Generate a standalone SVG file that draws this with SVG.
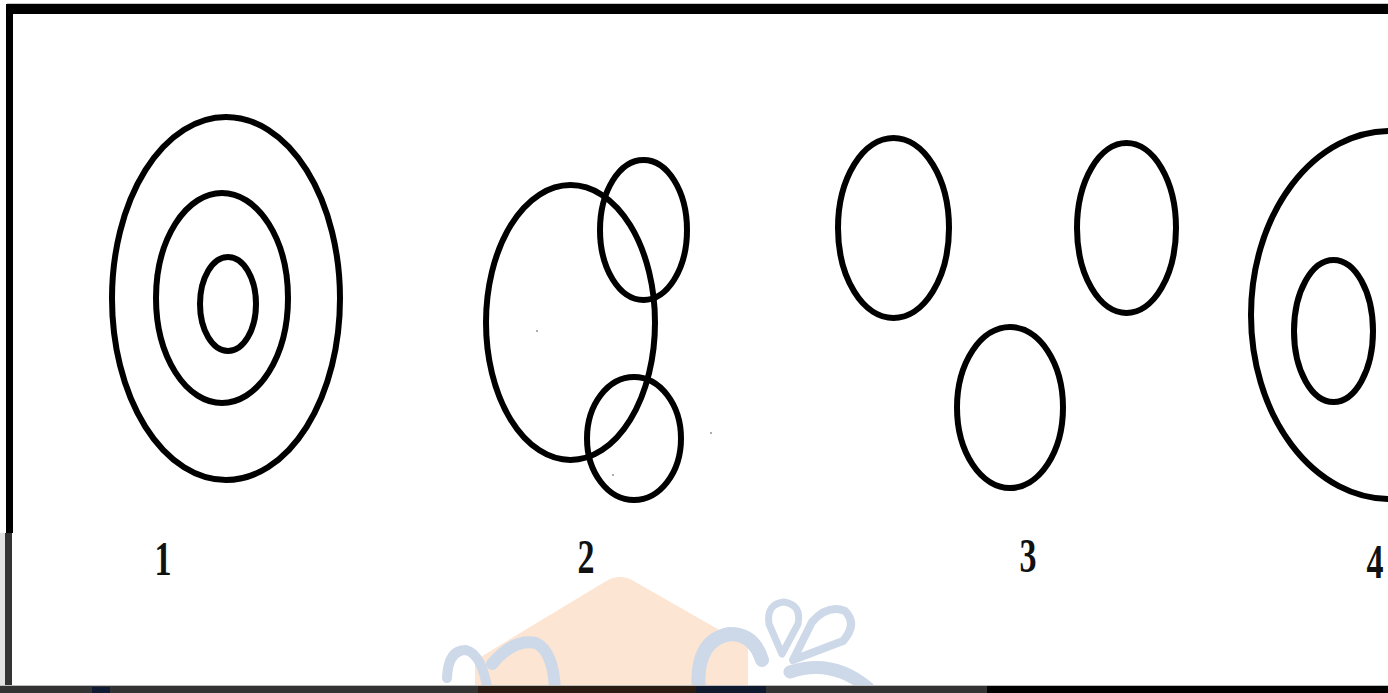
<svg xmlns="http://www.w3.org/2000/svg" width="1388" height="693" viewBox="0 0 1388 693">
  <style>
    .ring { fill: none; stroke: #000; stroke-width: 6; }
    .lbl { font-family: "Liberation Serif", "Times New Roman", serif; font-weight: bold; font-size: 34px; fill: #111; text-anchor: middle; }
    .wm { fill: none; stroke: #cdd9e8; stroke-linecap: round; }
  </style>
  <rect x="0" y="0" width="1388" height="693" fill="#ffffff"/>

  <!-- watermark -->
  <g id="watermark">
    <path d="M478 662 L607 584 Q620 576 633 584 L745 648 L745 693 L478 693 Z" fill="#fde5d3" stroke="#fde5d3" stroke-width="6" stroke-linejoin="round"/>
    <path class="wm" stroke-width="10" d="M447 678 Q448 650 466 650 Q482 654 488 692"/>
    <path class="wm" stroke-width="12" d="M492 664 Q514 638 536 643 Q554 652 555 692"/>
    <path class="wm" stroke-width="14" d="M699 692 Q694 640 730 634 Q754 634 762 660"/>
    <path d="M782 654 L769 624 Q766 604 784 602 Q802 605 798 624 Z" fill="none" stroke="#cdd9e8" stroke-width="7" stroke-linejoin="round"/>
    <path d="M793 660 L812 622 Q828 604 845 611 Q858 624 843 641 Z" fill="none" stroke="#cdd9e8" stroke-width="8" stroke-linejoin="round"/>
    <path class="wm" stroke-width="13" d="M790 672 Q832 658 868 688"/>
  </g>

  <!-- frame -->
  <g id="frame">
    <rect x="7" y="3" width="1381" height="1" fill="#c8c8c8"/>
    <rect x="7" y="4" width="1381" height="10" fill="#000"/>
    <rect x="6" y="4" width="7" height="529" fill="#000"/>
    <rect x="0" y="533" width="5" height="160" fill="#e2e2e2"/>
    <rect x="5" y="533" width="7" height="160" fill="#333"/>
    <rect x="0" y="685" width="1388" height="1" fill="#bdbdbd"/>
    <rect x="0" y="686" width="987" height="7" fill="#333"/>
    <rect x="987" y="686" width="401" height="7" fill="#000"/>
    <rect x="478" y="686" width="265" height="7" fill="#2a1c12"/>
    <rect x="92" y="687" width="18" height="6" fill="#0e1b33"/>
    <rect x="696" y="686" width="70" height="7" fill="#0f1a2e"/>
  </g>

  <g id="figure1">
    <ellipse class="ring" cx="226" cy="298.5" rx="114" ry="181.5"/>
    <ellipse class="ring" cx="222" cy="298" rx="66" ry="105"/>
    <ellipse class="ring" cx="228" cy="304" rx="28" ry="47"/>
  </g>

  <g id="figure2">
    <ellipse class="ring" cx="570.5" cy="322.5" rx="84.5" ry="137.5"/>
    <ellipse class="ring" cx="643.5" cy="230" rx="43.5" ry="70"/>
    <ellipse class="ring" cx="634" cy="438.5" rx="47" ry="61.5"/>
    <circle cx="537" cy="331" r="0.8" fill="#444"/>
    <circle cx="711" cy="433" r="0.8" fill="#444"/>
    <circle cx="613" cy="475" r="0.8" fill="#444"/>
  </g>

  <g id="figure3">
    <ellipse class="ring" cx="893.5" cy="228" rx="55.5" ry="90"/>
    <ellipse class="ring" cx="1126.5" cy="228" rx="49.5" ry="85"/>
    <ellipse class="ring" cx="1010" cy="407.5" rx="53" ry="80.5"/>
  </g>

  <g id="figure4">
    <ellipse class="ring" cx="1390" cy="315" rx="139" ry="184"/>
    <ellipse class="ring" cx="1333.5" cy="331" rx="39.5" ry="71"/>
  </g>

  <g id="labels" transform="scale(1,1.4)">
    <text class="lbl" x="163" y="410.5">1</text>
    <text class="lbl" x="586" y="409">2</text>
    <text class="lbl" x="1028" y="408.5">3</text>
    <text class="lbl" x="1375" y="413">4</text>
  </g>
</svg>
